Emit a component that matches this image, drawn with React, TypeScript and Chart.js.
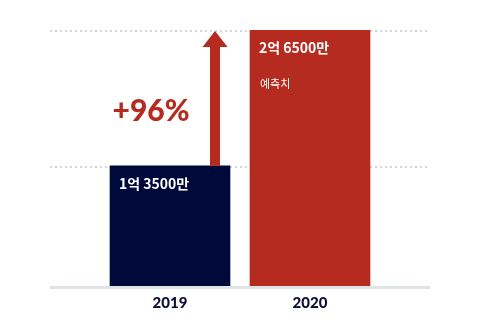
import React, { useEffect, useRef } from "react";
import { Chart, registerables } from "chart.js";

Chart.register(...registerables);

const categories = ["2019", "2020"];
const values = [13500, 26500];
const valueLabels = ["1억 3500만", "2억 6500만"];
const subLabels = ["", "예측치"];
const growthLabel = "+96%";
const gridValues = [13500, 26500];
const barColors = ["#000a3a", "#b52b20"];

const overlay = {
  id: "overlay",
  beforeDatasetsDraw(chart: any) {
    const ctx = chart.ctx;
    const y = chart.scales.y;
    ctx.save();
    ctx.strokeStyle = "#d3d8da";
    ctx.lineWidth = 2;
    ctx.setLineDash([2, 3]);
    gridValues.forEach((v) => {
      const py = Math.round(y.getPixelForValue(v)) + 1;
      ctx.beginPath();
      ctx.moveTo(50, py);
      ctx.lineTo(430, py);
      ctx.stroke();
    });
    ctx.setLineDash([]);
    ctx.strokeStyle = "#dfe5e7";
    ctx.lineWidth = 3;
    const by = chart.chartArea.bottom + 1.5;
    ctx.beginPath();
    ctx.moveTo(50, by);
    ctx.lineTo(430, by);
    ctx.stroke();
    ctx.restore();
  },
  afterDatasetsDraw(chart: any) {
    const ctx = chart.ctx;
    const meta = chart.getDatasetMeta(0);
    const y = chart.scales.y;
    ctx.save();
    meta.data.forEach((bar: any, i: number) => {
      const left = bar.x - bar.width / 2;
      ctx.fillStyle = "#ffffff";
      ctx.textBaseline = "middle";
      ctx.textAlign = "left";
      ctx.font = "bold 14px 'Noto Sans CJK KR'";
      ctx.fillText(valueLabels[i], left + 9, bar.y + 18);
      if (subLabels[i]) {
        ctx.font = "11px 'Noto Sans CJK KR'";
        ctx.fillText(subLabels[i], left + 10, bar.y + 54);
      }
    });
    const b0 = meta.data[0];
    const ax = b0.x + 45;
    const yBottom = y.getPixelForValue(values[0]);
    const yTop = y.getPixelForValue(values[1]) + 1;
    ctx.fillStyle = "#b52b20";
    ctx.fillRect(ax - 5, yTop + 15, 10, yBottom - yTop - 15);
    ctx.beginPath();
    ctx.moveTo(ax, yTop);
    ctx.lineTo(ax - 12.5, yTop + 16);
    ctx.lineTo(ax + 12.5, yTop + 16);
    ctx.closePath();
    ctx.fill();
    ctx.font = "900 30px Lato";
    ctx.textAlign = "center";
    ctx.textBaseline = "middle";
    ctx.fillText(growthLabel, 151, 111);
    ctx.restore();
  },
};

export default function App() {
  const ref = useRef<HTMLCanvasElement>(null);
  useEffect(() => {
    document.body.style.margin = "0";
    const chart = new Chart(ref.current!, {
      type: "bar",
      data: {
        labels: categories,
        datasets: [
          {
            data: values,
            backgroundColor: barColors,
            borderWidth: 0,
            barThickness: 120,
          },
        ],
      },
      options: {
        animation: false,
        responsive: false,
        layout: { padding: { top: 30, left: 100, right: 100, bottom: 0 } },
        plugins: { legend: { display: false }, tooltip: { enabled: false } },
        scales: {
          x: {
            grid: { display: false, drawTicks: false },
            border: { display: false },
            ticks: {
              padding: 8,
              color: "#0a0f33",
              font: { family: "Lato", weight: "900", size: 15 },
            },
          },
          y: {
            display: false,
            min: 2000,
            max: 26500,
          },
        },
      },
      plugins: [overlay],
    });
    return () => chart.destroy();
  }, []);
  return (
    <div style={{ width: 480, height: 320 }}>
      <canvas ref={ref} width={480} height={320} />
    </div>
  );
}
